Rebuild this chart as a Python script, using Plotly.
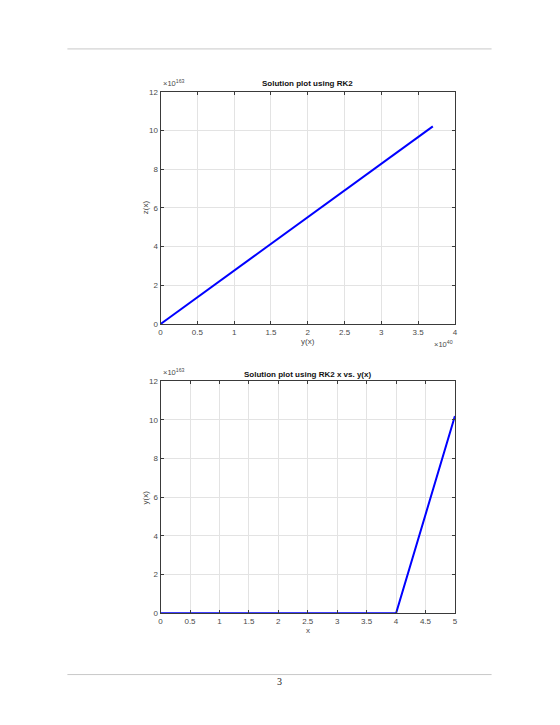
import plotly.graph_objects as go

# Data
x_vals = [0, 1, 2, 3, 4, 5]
y_vals = [0, 0, 0, 0, 0, 1.02e164]      # bottom plot y(x)
y_top = [0, 0, 0, 0, 0, 3.70e40]        # top plot horizontal: y(x)
z_top = [0, 0, 0, 0, 0, 1.022e164]      # top plot vertical: z(x)

Y_SCALE = 1e163
X_SCALE = 1e40

top_x_ticks = [0, 0.5, 1, 1.5, 2, 2.5, 3, 3.5, 4]
bot_x_ticks = [0, 0.5, 1, 1.5, 2, 2.5, 3, 3.5, 4, 4.5, 5]
y_ticks = [0, 2, 4, 6, 8, 10, 12]

W, H = 560, 725
FONT = "Liberation Sans, Arial, sans-serif"
TICK_COLOR = "#4a4a4a"
AX_COLOR = "#3a3a3a"
GRID = "#e3e3e3"

def px(x):
    return x / W

def py(y):
    return 1 - y / H

fig = go.Figure()
fig.add_trace(go.Scatter(x=[v / X_SCALE for v in y_top], y=[v / Y_SCALE for v in z_top],
                         mode="lines", line=dict(color="#0000ff", width=2),
                         xaxis="x", yaxis="y", showlegend=False))
fig.add_trace(go.Scatter(x=x_vals, y=[v / Y_SCALE for v in y_vals],
                         mode="lines", line=dict(color="#0000ff", width=2),
                         xaxis="x2", yaxis="y2", showlegend=False))

L, R = 160, 457
T1, B1 = 89, 324
T2, B2 = 382, 617

common = dict(showgrid=True, gridcolor=GRID, gridwidth=1, zeroline=False,
              showline=True, linecolor=AX_COLOR, linewidth=1, mirror="allticks",
              ticks="inside", ticklen=3, tickcolor=AX_COLOR, tickwidth=1,
              tickfont=dict(family=FONT, size=8, color=TICK_COLOR), fixedrange=True)

fig.update_layout(
    width=W, height=H, margin=dict(l=0, r=0, t=0, b=0),
    paper_bgcolor="white", plot_bgcolor="white",
    xaxis=dict(domain=[px(L), px(R)], range=[0, 4], tickvals=top_x_ticks,
               ticktext=[f"{t:g}" for t in top_x_ticks], anchor="y", **common),
    yaxis=dict(domain=[py(B1), py(T1)], range=[0, 12], tickvals=y_ticks,
               ticktext=[str(t) for t in y_ticks], anchor="x", **common),
    xaxis2=dict(domain=[px(L), px(R)], range=[0, 5], tickvals=bot_x_ticks,
                ticktext=[f"{t:g}" for t in bot_x_ticks], anchor="y2", **common),
    yaxis2=dict(domain=[py(B2), py(T2)], range=[0, 12], tickvals=y_ticks,
                ticktext=[str(t) for t in y_ticks], anchor="x2", **common),
)

def ann(text, x, y, size=8, bold=False, xanchor="center", yanchor="middle",
        angle=0, color=TICK_COLOR, family=FONT):
    if bold:
        text = f"<b>{text}</b>"
    fig.add_annotation(text=text, x=px(x), y=py(y), xref="paper", yref="paper",
                       showarrow=False, xanchor=xanchor, yanchor=yanchor,
                       textangle=angle, font=dict(family=family, size=size, color=color))

# Titles
ann("Solution plot using RK2", 308.5, 80, size=8, bold=True, color="#111111")
ann("Solution plot using RK2 x vs. y(x)", 308.5, 375, size=8, bold=True, color="#111111")
# Axis labels
ann("y(x)", 308.5, 342, size=8)
ann("z(x)", 145, 206, size=8, angle=-90)
ann("x", 308.5, 634, size=8)
ann("y(x)", 145, 500, size=8, angle=-90)
# Exponent labels
ann("×10<sup>163</sup>", 160, 87, size=7.5, xanchor="left", yanchor="bottom")
ann("×10<sup>163</sup>", 160, 380, size=7.5, xanchor="left", yanchor="bottom")
ann("×10<sup>40</sup>", 457, 344, size=7.5, xanchor="right", yanchor="middle")

# Page decorations
fig.add_shape(type="line", xref="paper", yref="paper", x0=px(66), x1=px(494),
              y0=py(45.5), y1=py(45.5), line=dict(color="#c8c8c8", width=1))
fig.add_shape(type="line", xref="paper", yref="paper", x0=px(66), x1=px(494),
              y0=py(679), y1=py(679), line=dict(color="#c8c8c8", width=1))
ann("3", 280, 686, size=10, color="#222222", family="Liberation Serif, Times New Roman, serif")

fig.write_html("out.html")
